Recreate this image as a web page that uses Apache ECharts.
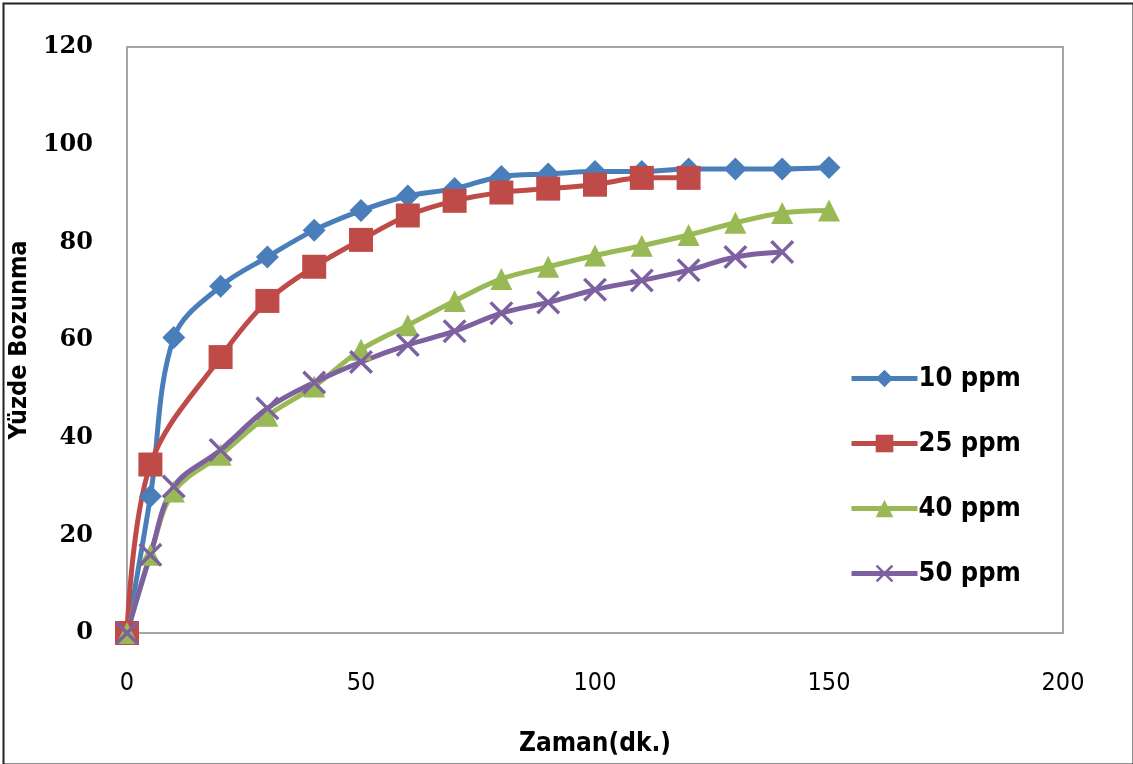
<!DOCTYPE html>
<html>
<head>
<meta charset="utf-8">
<script src="https://cdn.jsdelivr.net/npm/echarts@6/dist/echarts.min.js"></script>
<style>
  html, body { margin: 0; padding: 0; background: #fff; }
  #chart { width: 1133px; height: 764px; }
</style>
</head>
<body>
<div id="chart"></div>
<script>
// Degradation (%) over time (min) at four initial concentrations
const time10 = [0, 5, 10, 20, 30, 40, 50, 60, 70, 80, 90, 100, 110, 120, 130, 140, 150];
const ppm10  = [0, 28, 60.5, 71, 77, 82.5, 86.5, 89.5, 91, 93.5, 94, 94.5, 94.5, 95, 95, 95, 95.3];

const time25 = [0, 5, 20, 30, 40, 50, 60, 70, 80, 90, 100, 110, 120];
const ppm25  = [0, 34.5, 56.5, 68, 75, 80.5, 85.5, 88.5, 90.2, 91, 91.8, 93.2, 93.2];

const time40 = [0, 5, 10, 20, 30, 40, 50, 60, 70, 80, 90, 100, 110, 120, 130, 140, 150];
const ppm40  = [0, 16, 29, 36.5, 44.5, 50.5, 58, 63, 68, 72.5, 75, 77.3, 79.3, 81.5, 84, 86, 86.5];

const time50 = [0, 5, 10, 20, 30, 40, 50, 60, 70, 80, 90, 100, 110, 120, 130, 140];
const ppm50  = [0, 16, 30, 37.5, 46, 51.3, 55.5, 59, 61.8, 65.5, 67.7, 70.3, 72.2, 74.3, 77, 78];

const seriesNames = ['10 ppm', '25 ppm', '40 ppm', '50 ppm'];
const xTicks = { min: 0, max: 200, interval: 50 };
const yTicks = { min: 0, max: 120, interval: 20 };

const pairs = (xs, ys) => xs.map((x, i) => [x, ys[i]]);

// thin "x" cross mark
const crossPath = 'path://M0,1L1,0L5,4L9,0L10,1L6,5L10,9L9,10L5,6L1,10L0,9L4,5Z';

const chart = echarts.init(document.getElementById('chart'));

const narrowFont = '"DejaVu Sans Condensed", "Liberation Sans Narrow", "Liberation Sans", sans-serif';

function lineSeries(name, data, color, symbol, size) {
  return {
    name, type: 'line', data, smooth: 0.35,
    symbol, symbolSize: size, showSymbol: true,
    lineStyle: { color, width: 5 },
    itemStyle: { color },
    emphasis: { disabled: true },
    z: 2
  };
}

chart.setOption({
  animation: false,
  backgroundColor: '#ffffff',
  grid: { left: 127, top: 47, right: 70, bottom: 131, show: true,
          outerBoundsMode: 'none', containLabel: false,
          borderColor: '#a6a6a6', borderWidth: 2, backgroundColor: 'transparent' },
  xAxis: {
    type: 'value', min: xTicks.min, max: xTicks.max, interval: xTicks.interval,
    name: 'Zaman(dk.)', nameLocation: 'middle', nameGap: 98,
    nameTextStyle: { fontFamily: narrowFont, fontWeight: 'bold', fontSize: 26, color: '#000' },
    axisLine: { show: true, onZero: false, lineStyle: { color: '#a6a6a6', width: 2 } },
    axisTick: { show: false },
    splitLine: { show: false },
    axisLabel: { fontFamily: narrowFont, fontSize: 25, color: '#000', margin: 38 }
  },
  yAxis: {
    type: 'value', min: yTicks.min, max: yTicks.max, interval: yTicks.interval,
    name: 'Yüzde Bozunma', nameLocation: 'middle', nameGap: 95, nameRotate: 90,
    nameTextStyle: { fontFamily: narrowFont, fontWeight: 'bold', fontSize: 25, color: '#000' },
    axisLine: { show: true, lineStyle: { color: '#a6a6a6', width: 2 } },
    axisTick: { show: false },
    splitLine: { show: false },
    axisLabel: { fontFamily: '"DejaVu Serif", "Liberation Serif", serif', fontWeight: 'bold',
                 fontSize: 24, color: '#000', margin: 34 }
  },
  legend: {
    orient: 'vertical', left: 844, top: 360, itemGap: 38,
    itemWidth: 66, itemHeight: 22,
    data: seriesNames,
    lineStyle: { width: 5 },
    textStyle: { fontFamily: narrowFont, fontWeight: 'bold', fontSize: 27, color: '#000', padding: [0, 0, 0, -4] }
  },
  series: [
    lineSeries(seriesNames[0], pairs(time10, ppm10), '#4a7ebb', 'diamond', 23),
    lineSeries(seriesNames[1], pairs(time25, ppm25), '#be4b48', 'rect', 24),
    lineSeries(seriesNames[2], pairs(time40, ppm40), '#98b954', 'triangle', 22),
    lineSeries(seriesNames[3], pairs(time50, ppm50), '#7d60a0', crossPath, 24)
  ],
  graphic: [{
    type: 'rect', left: 1, top: 1,
    shape: { width: 1130, height: 761 },
    style: { fill: 'none', stroke: '#222', lineWidth: 2 },
    silent: true
  }]
});
</script>
</body>
</html>
